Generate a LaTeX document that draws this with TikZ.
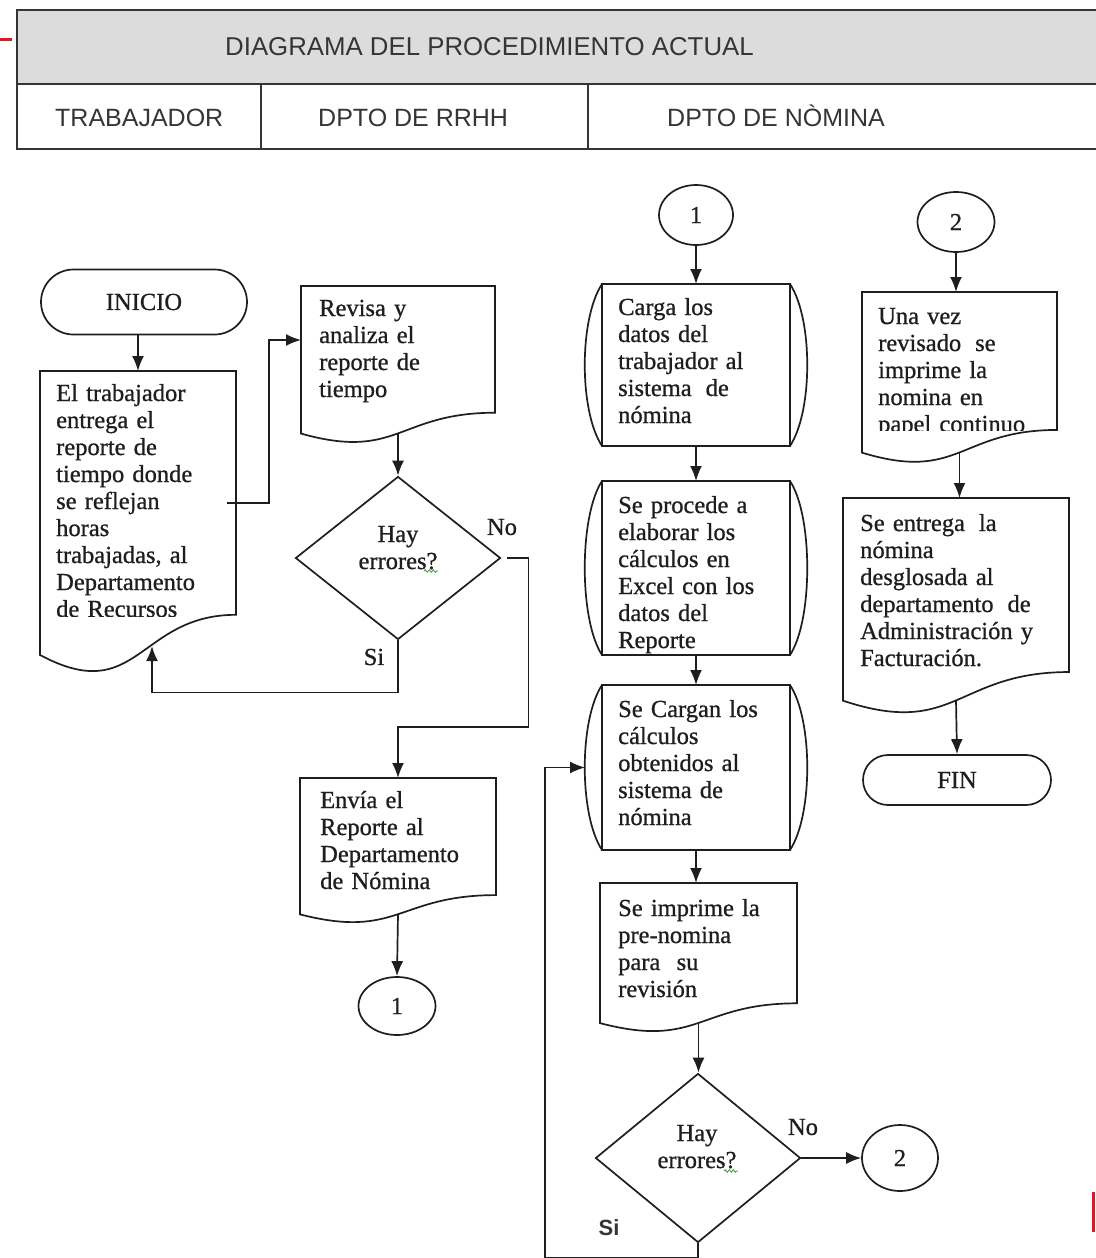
\documentclass[tikz,border=0pt]{standalone}
\usepackage{fontspec}
\setmainfont[FakeBold=0.8]{Liberation Serif}
\newfontfamily\hdrfont{Liberation Sans}
\usetikzlibrary{arrows.meta,calc,shapes.geometric,shapes.misc,decorations.pathmorphing}

\definecolor{ink}{HTML}{1E1E1E}
\definecolor{headfill}{HTML}{DCDCDC}
\definecolor{headtext}{HTML}{353535}
\definecolor{markred}{HTML}{E8141E}
\definecolor{squiggle}{HTML}{3C9A3C}

\newcommand\flowfont{\fontsize{24.5}{27}\selectfont}
\newcommand\gap{\hspace{14pt}}
\newcommand\jl[1]{\makebox[\linewidth][s]{#1}}

% document symbol with a wavy lower edge, drawn around a frame node
\newcommand\wavedoc[1]{%
  \draw[ln] (#1.north west) -- (#1.north east) -- ($(#1.north east)!0.802!(#1.south east)$)
    .. controls ($(#1.north)!0.802!(#1.south)$) and ($(#1.north)!1.107!(#1.south)$)
    .. ($(#1.north west)!0.934!(#1.south west)$) -- cycle;
  \coordinate (#1-bot) at ($(#1.north)!0.933!(#1.south)$);}

% process box with bowed sides, drawn around a frame node
\newcommand\bowbox[1]{%
  \draw[ln] (#1.north west) rectangle (#1.south east);
  \draw[ln] (#1.north west) .. controls ($(#1.north west)+(-23,35)$) and ($(#1.south west)+(-23,-35)$) .. (#1.south west);
  \draw[ln] (#1.north east) .. controls ($(#1.north east)+(23,35)$) and ($(#1.south east)+(23,-35)$) .. (#1.south east);}

\begin{document}
\begin{tikzpicture}[x=1pt,y=-1pt,
  ln/.style={draw=ink, line width=1.7pt},
  arr/.style={ln, -{Latex[length=15pt,width=12pt]}},
  frame/.style={inner sep=0pt, outer sep=0pt},
  txt/.style={font=\flowfont, text=ink, inner sep=0pt, anchor=base west, align=left},
  ctxt/.style={font=\flowfont, text=ink, inner sep=0pt, anchor=base, align=center, text width=120},
  lbl/.style={font=\flowfont, text=ink, inner sep=0pt},
  term/.style={rounded rectangle, ln, inner sep=0pt, font=\flowfont, text=ink},
  conn/.style={ellipse, ln, inner sep=0pt, font=\flowfont, text=ink},
  dec/.style={diamond, ln, inner sep=0pt},
  cell/.style={draw=headtext, line width=1.5pt, inner sep=0pt, anchor=north west},
  head/.style={font=\hdrfont\fontsize{25}{28}\selectfont, text=headtext, inner sep=0pt, anchor=base west},
  squig/.style={draw=squiggle, line width=0.8pt, decorate, decoration={snake, amplitude=1.3pt, segment length=4pt}},
  redmark/.style={draw=markred, line width=3pt}]

\useasboundingbox (0,0) rectangle (1095,1258);
\fill[white] (0,0) rectangle (1095,1258);

% ---------- header table ----------
\node[cell, fill=headfill, minimum width=1090, minimum height=74] (hdtitle) at (16,9) {};
\node[cell, minimum width=244, minimum height=65] (hdlane1) at (16,83) {};
\node[cell, minimum width=327, minimum height=65] (hdlane2) at (260,83) {};
\node[cell, minimum width=519, minimum height=65] (hdlane3) at (587,83) {};
\node[head, font=\hdrfont\fontsize{25.8}{28}\selectfont] (ttl) at (225,55) {DIAGRAMA\ DEL PROCEDIMIENTO\ ACTUAL};
\node[head] (l1) at (55,126) {TRABAJADOR};
\node[head] (l2) at (318,126) {DPTO DE RRHH};
\node[head] (l3) at (667,126) {DPTO DE NÒMINA};

\draw[redmark] (0,39) -- (12,39);
\draw[redmark] (1093,1192) -- (1093,1232);

% ---------- trabajador ----------
\node[term, minimum width=206, minimum height=65] (inicio) at (144,302) {INICIO};

\node[frame, minimum width=196, minimum height=304, anchor=north west] (d1) at (40,371) {};
\wavedoc{d1}
\begin{scope}
  \clip (d1.north west) rectangle ($(d1.north east)!0.806!(d1.south east)$);
  \node[txt, text width=143] (d1t) at (56,401)
    {El trabajador\\entrega el\\reporte de\\tiempo donde\\se reflejan\\horas\\\jl{trabajadas, al}\\Departamento\\de Recursos};
\end{scope}

% ---------- dpto de rrhh ----------
\node[frame, minimum width=194, minimum height=158, anchor=north west] (d2) at (301,286) {};
\wavedoc{d2}
\node[txt, text width=150] (d2t) at (319,316) {Revisa y\\analiza el\\reporte de\\tiempo};

\node[dec, minimum width=205, minimum height=163] (q1) at (398,558) {};
\node[ctxt] (q1t) at (398,542) {Hay\\errores?};
\draw[squig] ($(q1.center)+(26,13)$) -- ++(14,0);
\node[lbl] (q1no) at (502,527) {No};
\node[lbl] (q1si) at (374,657) {Si};

\node[frame, minimum width=196, minimum height=146, anchor=north west] (d3) at (300,778) {};
\wavedoc{d3}
\node[txt, text width=150] (d3t) at (320,808) {Envía el\\Reporte al\\Departamento\\de Nómina};

\node[conn, minimum width=77, minimum height=58] (c1b) at (397,1006) {1};

% ---------- dpto de nomina ----------
\node[conn, minimum width=74, minimum height=60] (c1) at (696,215) {1};

\node[frame, minimum width=188, minimum height=162, anchor=north west] (p1) at (602,284) {};
\bowbox{p1}
\node[txt, text width=132] (p1t) at (618,315) {Carga los\\datos del\\\jl{trabajador al}\\sistema\gap de\\nómina};

\node[frame, minimum width=188, minimum height=174, anchor=north west] (p2) at (602,481) {};
\bowbox{p2}
\begin{scope}
  \clip (p2.north west) rectangle (p2.south east);
  \node[txt, text width=140] (p2t) at (618,513)
    {\jl{Se procede a}\\\jl{elaborar los}\\\jl{cálculos en}\\Excel con los\\datos del\\Reporte};
\end{scope}

\node[frame, minimum width=188, minimum height=165, anchor=north west] (p3) at (602,685) {};
\bowbox{p3}
\coordinate (p3in) at ($(p3.west)+(-17,0)$);
\node[txt, text width=146] (p3t) at (618,717) {\jl{Se Cargan los}\\cálculos\\obtenidos al\\sistema de\\nómina};

\node[frame, minimum width=197, minimum height=150, anchor=north west] (d4) at (600,883) {};
\wavedoc{d4}
\node[txt, text width=150] (d4t) at (618,916) {Se imprime la\\pre-nomina\\para\ \ su\\revisión};

\node[dec, minimum width=205, minimum height=169] (q2) at (698,1158) {};
\node[ctxt] (q2t) at (697,1141) {Hay\\errores?};
\draw[squig] ($(q2.center)+(26,13)$) -- ++(14,0);
\node[lbl] (q2no) at (803,1127) {No};
\node[lbl, font=\hdrfont\fontsize{22}{24}\selectfont\bfseries, text=headtext] (q2si) at (609,1228) {Si};

\node[conn, minimum width=76, minimum height=66] (c2b) at (900,1158) {2};

% ---------- closing column ----------
\node[conn, minimum width=77, minimum height=60] (c2) at (956,222) {2};

\node[frame, minimum width=195, minimum height=172, anchor=north west] (d5) at (862,292) {};
\wavedoc{d5}
\begin{scope}
  \clip (d5.north west) rectangle ($(d5.north east)!0.806!(d5.south east)$);
  \node[txt, text width=160] (d5t) at (878,324) {Una vez\\revisado\gap se\\imprime la\\nomina en\\papel continuo};
\end{scope}

\node[frame, minimum width=226, minimum height=217, anchor=north west] (d6) at (843,498) {};
\wavedoc{d6}
\node[txt, text width=190] (d6t) at (860,531)
  {Se entrega\gap la\\nómina\\desglosada al\\departamento\gap de\\Administración y\\Facturación.};

\node[term, minimum width=188, minimum height=50] (fin) at (957,780) {FIN};

% ---------- connectors ----------
\draw[arr] (d1.north |- inicio.south) -- (d1.north);
\draw[arr] ([xshift=-9pt,yshift=20pt]d1.east) -| ([xshift=-32pt,yshift=-54pt]d2.north west)
  -- ([yshift=-54pt]d2.north west);
\draw[arr] (d2-bot) -- (q1.north);
\coordinate (d1in) at ($(d1.north west)!0.905!(d1.south west)+(112,0)$);
\draw[arr] (q1.south) -- ++(0,52) -| (d1in);
\draw[arr] ([xshift=6pt]q1.east) -- ++(21,0) |- ($(d3.north)+(0,-51)$) -- (d3.north);
\draw[arr] (d3-bot) -- (c1b.north);

\draw[arr] (c1.south) -- (c1.south |- p1.north);
\draw[arr] (p1.south) -- (p2.north);
\draw[arr] (p2.south) -- (p3.north);
\draw[arr] (p3.south) -- (p3.south |- d4.north);
\draw[arr] (d4-bot) -- (d4-bot |- q2.north);
\draw[arr] (q2.east) -- (c2b.west);
\draw[arr] (q2.south) -- ++(0,14) -| ($(p3in)+(-40,0)$) -- (p3in);

\draw[arr] (c2.south) -- (c2.south |- d5.north);
\draw[arr] (d5-bot) -- (d5-bot |- d6.north);
\draw[arr] (d6-bot) -- (fin.north);
\end{tikzpicture}
\end{document}
